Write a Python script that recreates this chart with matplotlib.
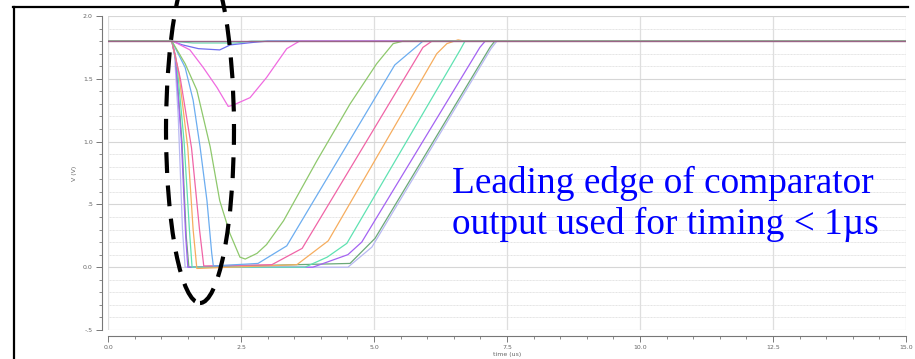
import matplotlib.pyplot as plt
from matplotlib.lines import Line2D
from matplotlib.patches import Ellipse
from matplotlib.ticker import MultipleLocator

# comparator output, one trace per input amplitude (time in us, volts)
t_green = [0, 1.2, 1.45, 1.67, 1.92, 2.1, 2.29, 2.48, 2.58, 2.8, 2.98, 3.3, 3.93, 4.55, 5.05, 5.36, 5.55, 15]
v_green = [1.8, 1.8, 1.62, 1.41, 0.96, 0.53, 0.27, 0.08, 0.065, 0.11, 0.18, 0.37, 0.85, 1.3, 1.62, 1.78, 1.8, 1.8]

t_blue = [0, 1.2, 1.45, 1.6, 1.73, 1.86, 1.95, 1.98, 2.82, 3.36, 5.39, 5.92, 15]
v_blue = [1.8, 1.8, 1.59, 1.33, 0.96, 0.53, 0.11, 0.01, 0.03, 0.17, 1.61, 1.8, 1.8]

t_pink = [0, 1.2, 1.36, 1.57, 1.72, 1.8, 3.08, 3.65, 5.92, 6.09, 15]
v_pink = [1.8, 1.8, 1.5, 0.95, 0.3, 0.01, 0.02, 0.15, 1.75, 1.8, 1.8]

t_orange = [0, 1.2, 1.33, 1.5, 1.6, 1.67, 3.55, 4.14, 6.18, 6.37, 6.58, 6.7, 15]
v_orange = [1.8, 1.8, 1.55, 0.95, 0.3, -0.01, 0.02, 0.21, 1.7, 1.78, 1.81, 1.8, 1.8]

t_teal = [0, 1.2, 1.3, 1.43, 1.53, 1.58, 3.7, 4.12, 4.49, 6.62, 6.71, 15]
v_teal = [1.8, 1.8, 1.6, 1.0, 0.3, 0.0, 0.0, 0.08, 0.19, 1.73, 1.8, 1.8]

t_purple = [0, 1.2, 1.27, 1.38, 1.46, 1.5, 3.85, 4.51, 4.77, 6.99, 7.09, 15]
v_purple = [1.8, 1.8, 1.65, 1.0, 0.25, 0.0, 0.0, 0.1, 0.2, 1.75, 1.8, 1.8]

t_dkgreen = [0, 1.2, 1.27, 1.39, 1.47, 1.52, 4.55, 5.02, 7.18, 7.27, 15]
v_dkgreen = [1.8, 1.8, 1.68, 1.0, 0.25, 0.0, 0.03, 0.23, 1.75, 1.8, 1.8]

t_lavender = [0, 1.2, 1.25, 1.32, 1.4, 1.45, 4.51, 4.96, 7.2, 7.31, 15]
v_lavender = [1.8, 1.8, 1.7, 1.2, 0.3, 0.0, 0.0, 0.16, 1.74, 1.8, 1.8]

# traces that never fire
t_magenta = [0, 1.22, 1.54, 1.79, 2.05, 2.26, 2.35, 2.67, 2.98, 3.36, 3.6, 15]
v_magenta = [1.8, 1.8, 1.73, 1.59, 1.43, 1.28, 1.29, 1.35, 1.51, 1.74, 1.8, 1.8]

t_bluedip = [0, 1.2, 1.4, 1.7, 2.1, 2.3, 2.73, 3.0, 15]
v_bluedip = [1.8, 1.8, 1.77, 1.74, 1.73, 1.77, 1.79, 1.8, 1.8]

t_tealdip = [0, 1.2, 1.6, 2.4, 2.7, 15]
v_tealdip = [1.8, 1.8, 1.785, 1.785, 1.8, 1.8]

t_flat = [0, 15]
v_flat = [1.8, 1.8]

y_ticks = [-0.5, 0.0, 0.5, 1.0, 1.5, 2.0]
y_tick_labels = ['-.5', '0.0', '.5', '1.0', '1.5', '2.0']
x_ticks = [0.0, 2.5, 5.0, 7.5, 10.0, 12.5, 15.0]
x_tick_labels = ['0.0', '2.5', '5.0', '7.5', '10.0', '12.5', '15.0']

W, H = 915, 359
fig = plt.figure(figsize=(W / 100, H / 100), dpi=100)
ax = fig.add_axes([108 / W, 1 - 330 / H, 798 / W, 314 / H])

traces = [
    (t_tealdip, v_tealdip, '#6fdcb4'),
    (t_bluedip, v_bluedip, '#6f6ff0'),
    (t_magenta, v_magenta, '#f06ae0'),
    (t_lavender, v_lavender, '#b8b8f2'),
    (t_dkgreen, v_dkgreen, '#6aa878'),
    (t_purple, v_purple, '#a463f2'),
    (t_teal, v_teal, '#5fe2b2'),
    (t_orange, v_orange, '#f6ad5e'),
    (t_pink, v_pink, '#f064a6'),
    (t_blue, v_blue, '#6cadf0'),
    (t_green, v_green, '#8ec86c'),
]
for t, v, c in traces:
    ax.plot(t, v, color=c, lw=0.9)
ax.plot(t_flat, v_flat, color='#9a6486', lw=1.0)

ax.set_xlim(0, 15)
ax.set_ylim(-0.5, 2.0)
ax.set_xticks(x_ticks)
ax.set_xticklabels(x_tick_labels)
ax.set_yticks(y_ticks)
ax.set_yticklabels(y_tick_labels)
ax.xaxis.set_minor_locator(MultipleLocator(0.5))
ax.yaxis.set_minor_locator(MultipleLocator(0.1))

ax.grid(which='major', axis='x', color='#dedede', lw=0.9)
ax.grid(which='major', axis='y', color='#d6d6d6', lw=0.8)
ax.grid(which='minor', axis='y', color='#e3e3e3', lw=0.7, linestyle=(0, (1, 0.5)))
ax.set_axisbelow(True)

for s in ['top', 'right']:
    ax.spines[s].set_visible(False)
ax.spines['left'].set_position(('outward', 4))
ax.spines['bottom'].set_position(('outward', 4))
for s in ['left', 'bottom']:
    ax.spines[s].set_color('#777777')
    ax.spines[s].set_linewidth(0.8)
ax.tick_params(which='major', length=4, width=0.7, color='#777777',
               labelsize=4.5, labelcolor='#666666', pad=3)
ax.tick_params(which='minor', length=2, width=0.6, color='#777777')

ax.set_xlabel('time (us)', fontsize=4.5, color='#666666', labelpad=1)
ax.set_ylabel('V (V)', fontsize=4.5, color='#666666', labelpad=4)

ax.text(452 / W, 1 - 234 / H, 'Leading edge of comparator\noutput used for timing < 1\u00b5s',
        transform=fig.transFigure, family='Liberation Serif', fontsize=26.8,
        color='#0000ff', va='baseline', ha='left', linespacing=1.2)

# dashed ellipse around the leading edges
ell = Ellipse((200 / 100, (H - 130) / 100), 0.68, 3.46, transform=fig.dpi_scale_trans,
              fill=False, edgecolor='black', lw=3.0, linestyle=(0, (5, 3)), clip_on=False)
fig.add_artist(ell)

# slide frame
fig.add_artist(Line2D([14 / W, 14 / W], [0, 1 - 7 / H], transform=fig.transFigure,
                      color='black', lw=1.6))
fig.add_artist(Line2D([13 / W, 908 / W], [1 - 7 / H, 1 - 7 / H], transform=fig.transFigure,
                      color='black', lw=1.6))

fig.savefig('out.png', dpi=100)
